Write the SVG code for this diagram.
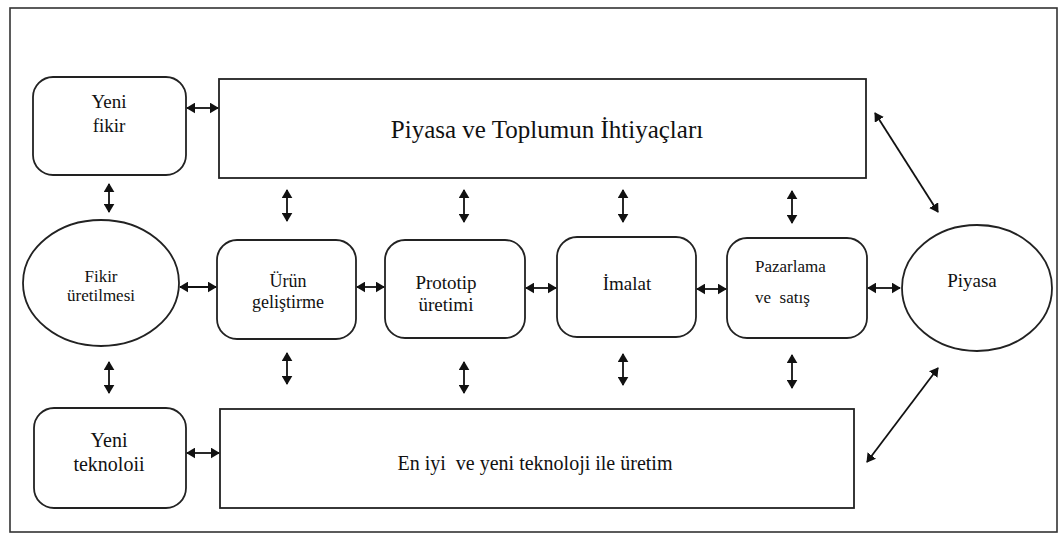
<svg xmlns="http://www.w3.org/2000/svg" width="1064" height="536" viewBox="0 0 1064 536">
<defs>
<marker id="ah" viewBox="0 0 10 12" refX="9" refY="6" markerWidth="9" markerHeight="11" orient="auto-start-reverse" markerUnits="userSpaceOnUse">
<path d="M0,0 L10,6 L0,12 z" fill="#111"/>
</marker>
<style>
.box{fill:#fff;stroke:#222;stroke-width:1.8}
.frame{fill:#fff;stroke:#333;stroke-width:1.6}
.t{font-family:"Liberation Serif","Times New Roman",serif;fill:#111;text-anchor:middle}
.c{stroke:#111;stroke-width:1.8;fill:none;marker-start:url(#ah);marker-end:url(#ah)}
</style>
</defs>
<rect width="1064" height="536" fill="#fff"/>
<rect class="frame" x="10" y="8" width="1047" height="524"/>
<g id="yeni-fikir">
<rect class="box" x="33" y="77" width="153" height="98" rx="20"/>
<text class="t" x="109" y="108" font-size="19">Yeni</text>
<text class="t" x="109" y="132" font-size="19">fikir</text>
</g>
<g id="ihtiyaclar">
<rect class="box" x="219" y="79" width="647" height="99"/>
<text class="t" x="547" y="138" font-size="25">Piyasa ve Toplumun İhtiyaçları</text>
</g>
<g id="fikir-uretilmesi">
<ellipse class="box" cx="101" cy="283" rx="78" ry="63"/>
<text class="t" x="101" y="282" font-size="17">Fikir</text>
<text class="t" x="101" y="301" font-size="17">üretilmesi</text>
</g>
<g id="urun-gelistirme">
<rect class="box" x="217" y="240" width="139" height="99" rx="20"/>
<text class="t" x="288" y="287" font-size="18">Ürün</text>
<text class="t" x="288" y="308" font-size="18">geliştirme</text>
</g>
<g id="prototip">
<rect class="box" x="385" y="240" width="140" height="98" rx="20"/>
<text class="t" x="446" y="289" font-size="19">Prototip</text>
<text class="t" x="446" y="311" font-size="19">üretimi</text>
</g>
<g id="imalat">
<rect class="box" x="557" y="237" width="139" height="100" rx="20"/>
<text class="t" x="627" y="290" font-size="19">İmalat</text>
</g>
<g id="pazarlama">
<rect class="box" x="727" y="238" width="140" height="100" rx="20"/>
<text class="t" x="755" y="272" font-size="17" style="text-anchor:start">Pazarlama</text>
<text class="t" x="755" y="303" font-size="17" style="text-anchor:start" xml:space="preserve">ve  satış</text>
</g>
<g id="piyasa">
<ellipse class="box" cx="977" cy="288" rx="75" ry="63"/>
<text class="t" x="972" y="287" font-size="19">Piyasa</text>
</g>
<g id="yeni-teknoloji">
<rect class="box" x="34" y="408" width="152" height="100" rx="20"/>
<text class="t" x="109" y="447" font-size="20">Yeni</text>
<text class="t" x="109" y="471" font-size="20">teknoloii</text>
</g>
<g id="en-iyi">
<rect class="box" x="220" y="409" width="634" height="99"/>
<text class="t" x="535" y="470" font-size="20" xml:space="preserve">En iyi  ve yeni teknoloji ile üretim</text>
</g>
<g id="connectors">
<line class="c" x1="187" y1="108" x2="218" y2="108"/>
<line class="c" x1="109" y1="184" x2="109" y2="212"/>
<line class="c" x1="287" y1="190" x2="287" y2="221"/>
<line class="c" x1="464" y1="190" x2="464" y2="222"/>
<line class="c" x1="623" y1="190" x2="623" y2="222"/>
<line class="c" x1="792" y1="191" x2="792" y2="223"/>
<line class="c" x1="180" y1="287" x2="216" y2="287"/>
<line class="c" x1="357" y1="287" x2="384" y2="287"/>
<line class="c" x1="526" y1="288" x2="556" y2="288"/>
<line class="c" x1="697" y1="289" x2="726" y2="289"/>
<line class="c" x1="868" y1="288" x2="900" y2="288"/>
<line class="c" x1="109" y1="362" x2="109" y2="393"/>
<line class="c" x1="287" y1="353" x2="287" y2="384"/>
<line class="c" x1="464" y1="362" x2="464" y2="393"/>
<line class="c" x1="623" y1="354" x2="623" y2="385"/>
<line class="c" x1="792" y1="355" x2="792" y2="388"/>
<line class="c" x1="187" y1="453" x2="219" y2="453"/>
<line class="c" x1="875" y1="113" x2="938" y2="212"/>
<line class="c" x1="938" y1="368" x2="867" y2="462"/>
</g>
</svg>
